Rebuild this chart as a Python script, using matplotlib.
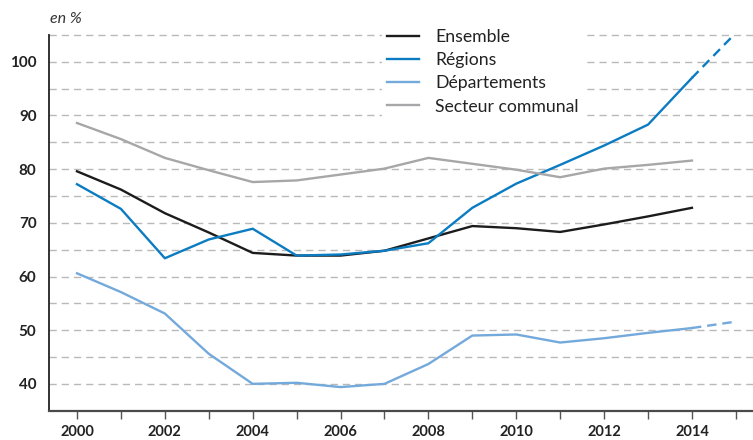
import numpy as np
import matplotlib
matplotlib.use("Agg")
import matplotlib.pyplot as plt

plt.rcParams['font.family'] = ['Lato', 'DejaVu Sans']

years = list(range(2000, 2015))
ensemble = [79.6, 76.2, 71.8, 68.2, 64.4, 63.9, 63.9, 64.8, 67.1, 69.4, 69.0, 68.3, 69.7, 71.2, 72.8]
regions = [77.2, 72.6, 63.4, 66.9, 68.9, 63.9, 64.1, 64.8, 66.2, 72.8, 77.3, 80.8, 84.4, 88.3, 97.0]
departements = [60.6, 57.1, 53.1, 45.6, 40.0, 40.2, 39.4, 40.0, 43.7, 49.0, 49.2, 47.7, 48.5, 49.5, 50.4]
secteur = [88.6, 85.6, 82.1, 79.8, 77.6, 77.9, 79.0, 80.1, 82.1, 81.0, 79.9, 78.5, 80.1, 80.8, 81.6]

# projections 2014 -> 2015 (dashed)
proj_years = [2014, 2015]
regions_proj = [97.0, 105.4]
departements_proj = [50.4, 51.6]

c_black = '#1c1c1c'
c_blue = '#0b7cc2'
c_light = '#74a9dc'
c_grey = '#a7a7a9'

fig = plt.figure(figsize=(7.53, 4.40), dpi=100)
ax = fig.add_axes([0.0651, 0.0666, 0.9349, 0.8539])

lw = 1.7
ax.plot(years, ensemble, color=c_black, lw=lw, label='Ensemble')
ax.plot(years, regions, color=c_blue, lw=lw, label='Régions')
ax.plot(years, departements, color=c_light, lw=lw, label='Départements')
ax.plot(years, secteur, color=c_grey, lw=lw, label='Secteur communal')
ax.plot(proj_years, regions_proj, color=c_blue, lw=lw, ls=(0, (4, 2.5)))
ax.plot(proj_years, departements_proj, color=c_light, lw=lw, ls=(0, (4, 2.5)))

ax.set_xlim(1999.363, 2015.39)
ax.set_ylim(35, 105)

# dashed horizontal grid every 5
for v in range(40, 106, 5):
    ax.axhline(v, color='#b9b9b9', lw=1.0, ls=(0, (5.2, 3.6)), zorder=0, clip_on=False)

ax.set_yticks(range(40, 101, 10))
ax.set_yticklabels([str(v) for v in range(40, 101, 10)], fontweight='bold', fontsize=11, color='#222222')
ax.tick_params(axis='y', length=0, pad=9)

ax.set_xticks(range(2000, 2016))
ax.set_xticklabels([str(y) if y % 2 == 0 and y < 2015 else '' for y in range(2000, 2016)],
                   fontweight='bold', fontsize=10.5, color='#222222')
ax.tick_params(axis='x', length=6, width=1.0, color='#555555', pad=4)

for s in ['top', 'right']:
    ax.spines[s].set_visible(False)
ax.spines['left'].set_color('#222222')
ax.spines['left'].set_linewidth(1.3)
ax.spines['bottom'].set_color('#4a4a4a')
ax.spines['bottom'].set_linewidth(1.6)

leg = ax.legend(loc='upper left', bbox_to_anchor=(0.473, 1.029), frameon=True,
                facecolor='white', edgecolor='none', framealpha=1, fontsize=12.7,
                handlelength=1.8, handletextpad=0.92, labelspacing=0.4,
                borderpad=0.3, borderaxespad=0)
for t in leg.get_texts():
    t.set_color('#222222')

fig.text(0.066, 0.957, 'en %', fontsize=11.5, style='italic', color='#333333', ha='left', va='center')

fig.savefig('out.png', dpi=100)
